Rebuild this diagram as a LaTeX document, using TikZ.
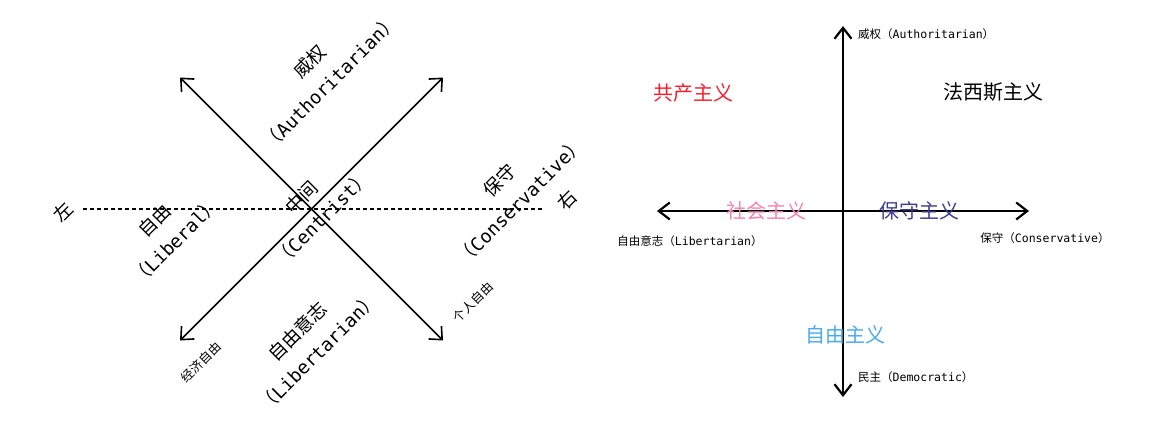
\documentclass[tikz,border=0pt]{standalone}
\usepackage{fontspec}
\setmainfont{Noto Sans CJK SC}
\newfontfamily\enfont{DejaVu Sans Mono}
\usepackage{xcolor}
\usepackage{tikz}
\usetikzlibrary{arrows.meta,positioning}
\definecolor{redism}{RGB}{250,30,45}
\definecolor{pinkism}{RGB}{250,130,170}
\definecolor{navyism}{RGB}{60,60,150}
\definecolor{skyism}{RGB}{70,170,240}
\newcommand{\en}[1]{{\enfont #1}}

\begin{document}
\begin{tikzpicture}[x=1pt, y=-1pt, big/.style={rotate=45, align=center, inner sep=0pt, font=\fontsize{18.5}{29}\selectfont}, tiny/.style={rotate=45, inner sep=0pt, font=\fontsize{12.5}{15}\selectfont}, tag/.style={inner sep=0pt, font=\fontsize{11.5}{14}\selectfont}, ism/.style={inner sep=0pt, font=\fontsize{20}{24}\selectfont}, arr/.style={{Straight Barb[length=10pt,width=18pt]}-{Straight Barb[length=10pt,width=18pt]}, line width=1.6pt}, axis/.style={{Straight Barb[length=11pt,width=17pt]}-{Straight Barb[length=11pt,width=17pt]}, line width=2.2pt}]
\useasboundingbox (0,0) rectangle (1175,428);
% left: tilted chart
\coordinate (ll) at (83,209);
\coordinate (lr) at (542,209);
\coordinate (nw) at (180,77.5);
\coordinate (se) at (443,340.5);
\coordinate (sw) at (180,340.5);
\coordinate (ne) at (443,77.5);
\draw[line width=1.4pt, dash pattern=on 4pt off 3pt] (ll) -- (lr);
\draw[arr] (nw) -- (se);
\draw[arr] (sw) -- (ne);
\node[big] (left) at (63,212) {左};
\node[big] (right) at (567,200) {右};
\node[big] (auth) at (320,72) {威权\\（\en{Authoritarian}）};
\node[big] (cent) at (312,208) {中间\\（\en{Centrist}）};
\node[big] (cons) at (510,191) {保守\\（\en{Conservative}）};
\node[big] (libl) at (165,231) {自由\\（\en{Liberal}）};
\node[big] (libt) at (308,342) {自由意志\\（\en{Libertarian}）};
\node[tiny] (econ) at (201,362) {经济自由};
\node[tiny] (pers) at (473,302) {个人自由};
% right: flat chart
\coordinate (top) at (843,26);
\coordinate (bot) at (843,397);
\coordinate (west) at (657,211);
\coordinate (east) at (1029,211);
\draw[axis] (bot) -- (top);
\draw[axis] (west) -- (east);
\node[tag, anchor=west] (ta) at (858,34) {威权（\en{Authoritarian}）};
\node[tag] (tl) at (690,241) {自由意志（\en{Libertarian}）};
\node[tag] (tc) at (1045,238) {保守（\en{Conservative}）};
\node[tag, anchor=west] (td) at (858,377) {民主（\en{Democratic}）};
\node[ism, text=redism] (comm) at (693,93) {共产主义};
\node[ism] (fasc) at (993,92) {法西斯主义};
\node[ism, text=pinkism] (soc) at (766,211) {社会主义};
\node[ism, text=navyism] (consm) at (919,211) {保守主义};
\node[ism, text=skyism] (libm) at (845,335) {自由主义};
\end{tikzpicture}
\end{document}
